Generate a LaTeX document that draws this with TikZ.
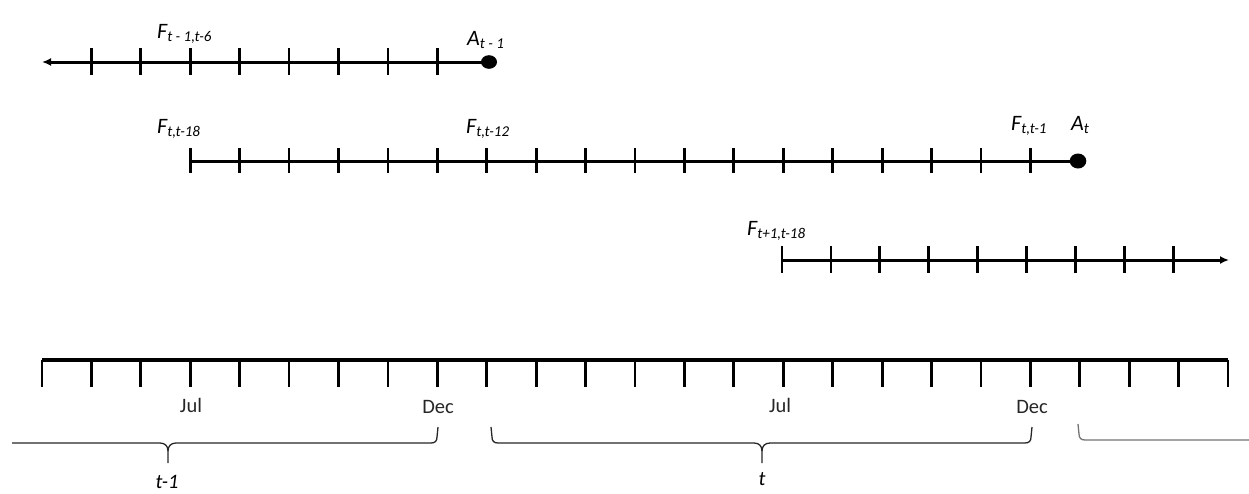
\documentclass[tikz,border=0pt]{standalone}
\usepackage{fontspec}
\setmainfont{Carlito}
\usetikzlibrary{arrows.meta}
\newcommand\Lab[2]{\textit{#1\raisebox{-3.5pt}{\fontsize{15}{16}\selectfont #2}}}
\tikzset{
  axisline/.style={line width=3pt},
  tickline/.style={line width=2.8pt},
  baseline/.style={line width=4pt},
  bracepath/.style={line width=1.3pt, black!85, line join=round},
  lab/.style={inner sep=0pt, anchor=base west, font=\fontsize{22}{26}\selectfont},
  mon/.style={inner sep=0pt, anchor=base, font=\fontsize{20.5}{24}\selectfont, text=black!85},
  tip/.style={-{Latex[length=9pt,width=8pt]}},
}
\begin{document}
\begin{tikzpicture}[x=1pt,y=-1pt]
\useasboundingbox (0,0) rectangle (1249,493);
% ---------- line 1 ----------
\coordinate (l1s) at (42,62);
\coordinate (l1e) at (489,62);
\draw[axisline,tip] (l1e) -- (l1s);
\foreach \k in {1,...,8} \draw[tickline] ({42+49.417*\k},48) -- ++(0,27);
\fill (l1e) ellipse [x radius=8pt, y radius=6.8pt];
\node[lab] (f1) at (157,38) {\Lab{F}{t - 1,t-6}};
\node[lab] (a1) at (467,45) {\Lab{A}{t - 1}};
% ---------- line 2 ----------
\coordinate (l2s) at (190,161);
\coordinate (l2e) at (1078,161);
\draw[axisline] (l2s) -- (l2e);
\foreach \k in {3,...,20} \draw[tickline] ({42+49.417*\k},148) -- ++(0,25);
\fill (l2e) ellipse [x radius=8.3pt, y radius=7.5pt];
\node[lab] (f2) at (157,133) {\Lab{F}{t,t-18}};
\node[lab] (f3) at (466,133) {\Lab{F}{t,t-12}};
\node[lab] (f4) at (1011,130) {\Lab{F}{t,t-1}};
\node[lab] (a2) at (1071,130) {\Lab{A}{t}};
% ---------- line 3 ----------
\coordinate (l3s) at (782,260);
\coordinate (l3e) at (1229,260);
\draw[axisline,tip] (l3s) -- (l3e);
\foreach \k in {0,...,8} \draw[tickline] ({782+48.9*\k},246) -- ++(0,27);
\node[lab] (f5) at (747,235) {\Lab{F}{t+1,t-18}};
% ---------- calendar ----------
\coordinate (cs) at (42,360);
\coordinate (ce) at (1228,360);
\draw[baseline] (cs) -- (ce);
\foreach \k in {0,...,24} \draw[tickline] ({42+49.417*\k},360) -- ++(0,27);
\node[mon] (jul1) at (191,412) {Jul};
\node[mon] (dec1) at (438,413) {Dec};
\node[mon] (jul2) at (780,412) {Jul};
\node[mon] (dec2) at (1032,413) {Dec};
% ---------- braces ----------
\draw[bracepath] (12,443) -- (160,443) .. controls (165,443) and (168,446) .. (168,451) -- (168,463);
\draw[bracepath] (168,451) .. controls (168,446) and (171,443) .. (176,443) -- (431,443)
   .. controls (435,443) and (437,441) .. (437,437) -- (438,427);
\draw[bracepath] (491,427) -- (492,437) .. controls (492,441) and (494,443) .. (498,443) -- (754,443)
   .. controls (759,443) and (762,446) .. (762,451) -- (762,463);
\draw[bracepath] (762,451) .. controls (762,446) and (765,443) .. (770,443) -- (1025,443)
   .. controls (1029,443) and (1031,441) .. (1031,437) -- (1032,427);
\draw[bracepath, black!55] (1078,424) -- (1079,434) .. controls (1079,438) and (1081,440) .. (1085,440) -- (1249,440);
\node[mon, text=black, font=\fontsize{20.5}{24}\selectfont\itshape] (t1) at (167,488) {t-1};
\node[mon, text=black, font=\fontsize{20.5}{24}\selectfont\itshape] (t0) at (762,485) {t};
\end{tikzpicture}
\end{document}
